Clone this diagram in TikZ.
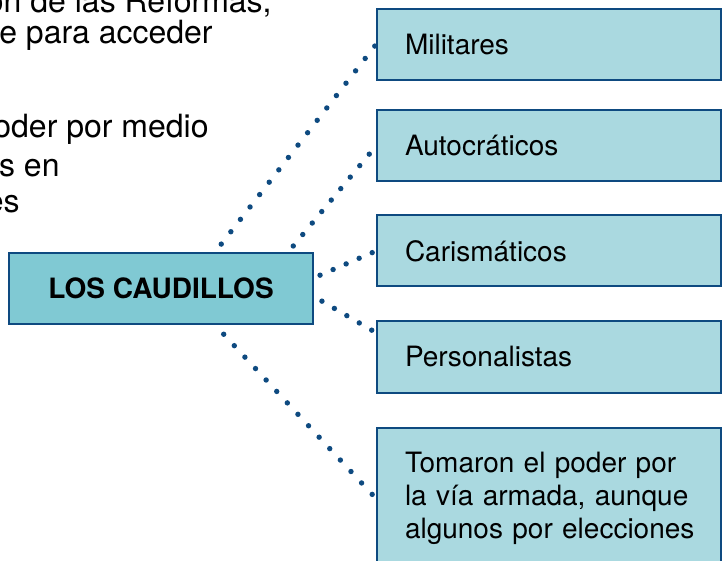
\documentclass[tikz,border=0pt]{standalone}
\usepackage{fontspec}
\setmainfont{TeX Gyre Heros}
\usetikzlibrary{positioning}
\definecolor{headfill}{HTML}{80C9D3}
\definecolor{itemfill}{HTML}{AAD9E0}
\definecolor{edgeblue}{HTML}{0E4A80}
\begin{document}
\begin{tikzpicture}[x=0.5pt,y=-0.5pt,
    head/.style={draw=edgeblue,fill=headfill,line width=1pt,
        minimum width=152pt,minimum height=35.5pt,
        font=\fontsize{14}{16}\selectfont\bfseries},
    item/.style={draw=edgeblue,fill=itemfill,line width=1pt,
        minimum width=172pt,minimum height=35.5pt,text width=144pt,
        inner xsep=14pt,align=left,
        font=\fontsize{14}{16.5}\selectfont},
    frag/.style={anchor=base east,inner sep=0pt,
        font=\fontsize{16}{19}\selectfont},
    link/.style={edgeblue,line width=2.7pt,line cap=round},
    gap/.style={dash pattern=on 0pt off #1}]
    \useasboundingbox (0,0) rectangle (723,561);
    \clip (0,0) rectangle (723,561);

    % text cut off at the left
    \node[frag] (t1) at (272,13) {ón de las Reformas,};
    \node[frag] (t2) at (213,44) {e para acceder};
    \node[frag] (t3) at (209,138) {poder por medio};
    \node[frag] (t4) at (60,177) {s en};
    \node[frag] (t5) at (20,213) {es};

    \node[head] (caud) at (161,288.5) {LOS CAUDILLOS};

    \node[item] (mil) at (549,44.5) {Militares};
    \node[item] (aut) at (549,146) {Autocráticos};
    \node[item] (car) at (549,251) {Carismáticos};
    \node[item] (per) at (549,357) {Personalistas};
    \node[item,minimum height=70.5pt] (tom) at (549,498.5)
        {\mbox{Tomaron el poder por}\\\mbox{la vía armada, aunque}\\
         \mbox{algunos por elecciones}};

    \draw[link,gap=7.83pt,shorten <=5pt] (caud.34.8) -- (mil.west);
    \draw[link,gap=7.45pt,shorten <=3.9pt] (caud.16.6) -- (aut.west);
    \draw[link,gap=7.1pt,shorten <=3.3pt,shorten >=1pt] (caud.4) -- (car.west);
    \draw[link,gap=7.2pt,shorten <=4.6pt,shorten >=1pt] (caud.-3.4) -- (per.172);
    \draw[link,gap=7.8pt,shorten <=6.3pt,shorten >=1pt] (caud.-34.8) -- (tom.west);

\end{tikzpicture}
\end{document}
